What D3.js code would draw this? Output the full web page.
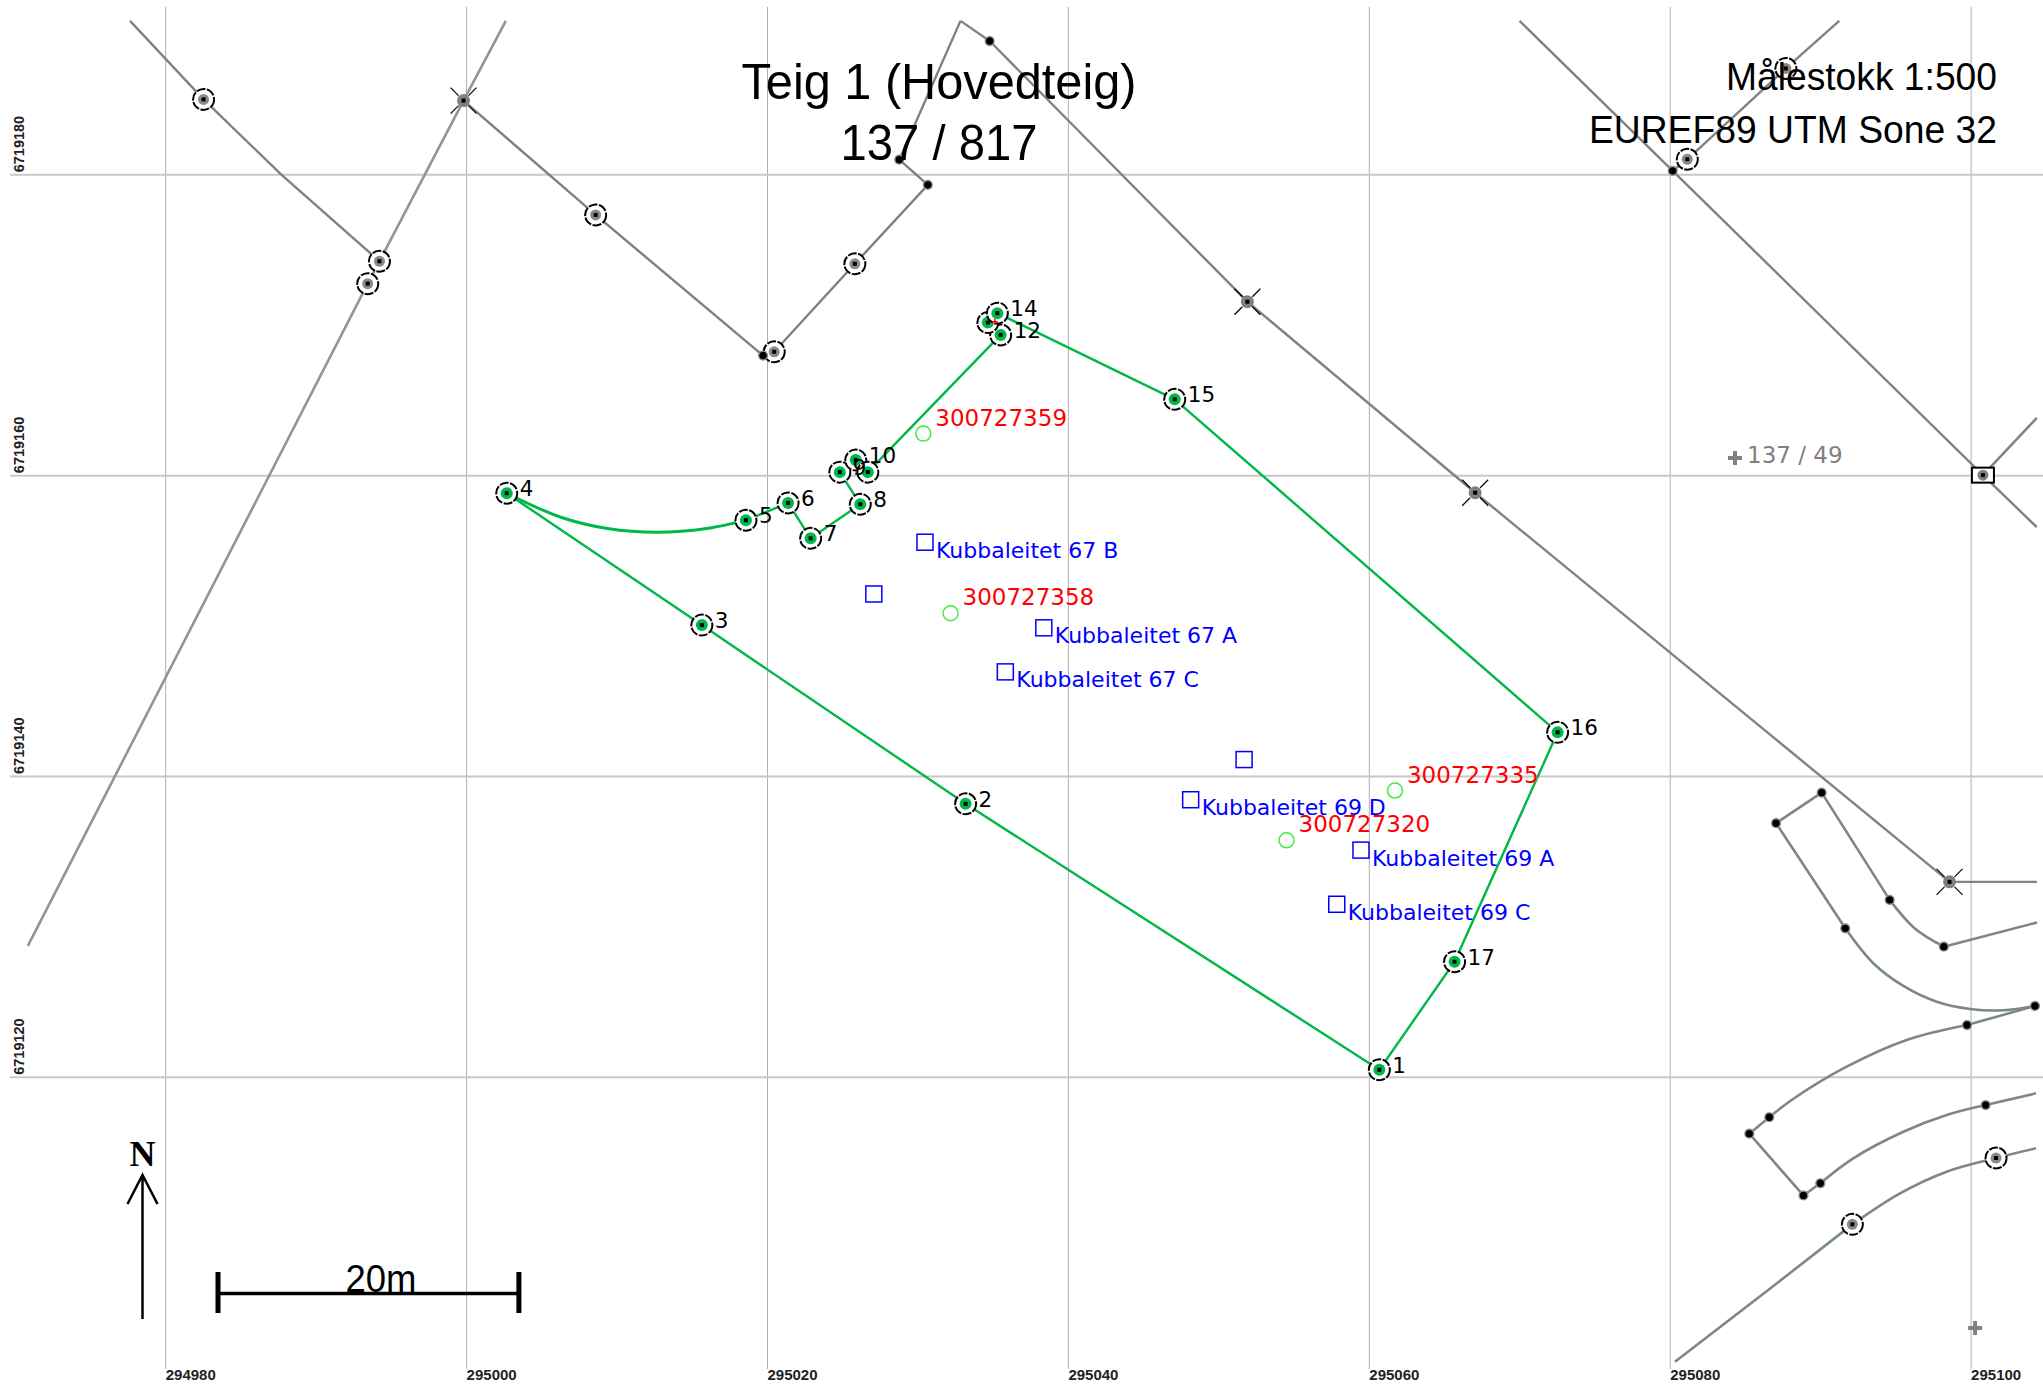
<!DOCTYPE html>
<html>
<head>
<meta charset="utf-8">
<script src="https://cdn.jsdelivr.net/npm/d3@7"></script>
<style>
  body { margin: 0; background: #fff; }
  svg { display: block; }
  .pointLabel { font: 21.5px "DejaVu Sans"; fill: #000; }
  .redLabel { font: 23px "DejaVu Sans"; fill: #f00; }
  .blueLabel { font: 22px "DejaVu Sans"; fill: #00f; }
  .grey { font: 23px "DejaVu Sans"; fill: #808080; }
  .title { font-family: "Liberation Sans"; fill: #000; }
</style>
</head>
<body>
<svg id="map" width="2043" height="1384"></svg>
<script>
// grid ticks
const eastTicks = [294980, 295000, 295020, 295040, 295060, 295080, 295100];
const northTicks = [6719120, 6719140, 6719160, 6719180];

// teig boundary, 1..17 [east, north]
const parcelPoints = [
  [295060.7, 6719120.47], [295033.2, 6719138.15], [295015.67, 6719150.03], [295002.7, 6719158.8],
  [295018.6, 6719157.0], [295021.4, 6719158.15], [295022.9, 6719155.8], [295026.2, 6719158.06],
  [295024.84, 6719160.2], [295025.9, 6719161.0], [295026.7, 6719160.2], [295035.53, 6719169.32],
  [295034.68, 6719170.14], [295035.31, 6719170.77], [295047.1, 6719165.04], [295072.55, 6719142.9],
  [295065.7, 6719127.65]
];
// 11 and 13 are not visible in the picture
const parcelLabels = ["1","2","3","4","5","6","7","8","9","10","","12","","14","15","16","17"];
const parcelArc = [
  [295002.7, 6719158.8], [295006.3, 6719157.2], [295009.4, 6719156.45], [295012.7, 6719156.2],
  [295016.0, 6719156.45], [295018.6, 6719157.0]
];

// kubbaleitet squares
const leases = [
  [295030.5, 6719155.54], [295027.1, 6719152.1], [295038.4, 6719149.85], [295035.84, 6719146.92],
  [295051.71, 6719141.09], [295048.16, 6719138.42], [295059.48, 6719135.07], [295057.87, 6719131.47]
];
const leaseLabels = ["Kubbaleitet 67 B", "", "Kubbaleitet 67 A", "Kubbaleitet 67 C", "", "Kubbaleitet 69 D", "Kubbaleitet 69 A", "Kubbaleitet 69 C"];

// red numbered buildings
const buildings = [
  [295030.39, 6719162.76], [295032.2, 6719150.82], [295061.74, 6719139.03], [295054.53, 6719135.72]
];
const buildingLabels = ["300727359", "300727358", "300727335", "300727320"];

// neighbour boundaries
const lineA = [[294977.66, 6719190.2], [294982.55, 6719184.98], [294987.7, 6719180.0], [294994.24, 6719174.22]];
const lineB = [[295002.64, 6719190.2], [294999.83, 6719184.9], [294994.24, 6719174.22], [294993.46, 6719172.73], [294970.87, 6719128.7]];
const lineC = [[294999.83, 6719184.9], [295008.61, 6719177.3], [295019.74, 6719167.95], [295020.48, 6719168.2],
  [295025.84, 6719174.05], [295030.69, 6719179.3], [295028.79, 6719180.97], [295032.86, 6719190.2]];
const lineD = [[295032.86, 6719190.2], [295034.8, 6719188.86], [295051.93, 6719171.53], [295067.07, 6719158.83],
  [295098.6, 6719132.96], [295104.4, 6719132.96]];
const lineE = [[295070.02, 6719190.2], [295080.2, 6719180.23], [295100.82, 6719160], [295104.4, 6719156.54]];
const lineE2 = [[295100.82, 6719160], [295104.4, 6719163.8]];
const lineF = [[295080.2, 6719180.23], [295081.17, 6719181.0], [295087.72, 6719187.04], [295091.27, 6719190.2]];
const lineG = [[295091.67, 6719129.87], [295087.07, 6719136.86], [295090.1, 6719138.89], [295094.62, 6719131.76]];
const lineH = [[295098.22, 6719128.65], [295104.42, 6719130.26]];
const lineI = [[295104.28, 6719124.71], [295099.76, 6719123.44]];
const lineJ = [[295086.62, 6719117.31], [295085.29, 6719116.22], [295088.89, 6719112.11], [295090.01, 6719112.92]];
const lineK = [[295101.0, 6719118.12], [295104.35, 6719118.9]];
const lineL = [[295080.35, 6719101.06], [295086.55, 6719105.82], [295092.14, 6719110.19]];
const curveA = [[295094.62, 6719131.76], [295096.27, 6719129.88], [295098.22, 6719128.65]];
const curveB = [[295091.67, 6719129.87], [295093.53, 6719127.55], [295095.53, 6719126.04], [295097.75, 6719124.99],
  [295099.96, 6719124.51], [295102.17, 6719124.42], [295104.28, 6719124.71]];
const curveC = [[295099.76, 6719123.44], [295095.75, 6719122.45], [295091.76, 6719120.67], [295088.11, 6719118.46], [295086.62, 6719117.31]];
const curveD = [[295090.01, 6719112.92], [295092.2, 6719114.58], [295095.53, 6719116.35], [295098.41, 6719117.46], [295101.0, 6719118.12]];
const curveE = [[295092.14, 6719110.19], [295095.31, 6719112.25], [295098.41, 6719113.69], [295101.69, 6719114.6], [295104.35, 6719115.25]];

// markers on the neighbour lines
const ringMarks = [
  [294982.55, 6719184.98], [294994.24, 6719174.22], [294993.46, 6719172.73], [295008.61, 6719177.3],
  [295020.48, 6719168.2], [295025.84, 6719174.05], [295081.17, 6719181.0], [295087.72, 6719187.04],
  [295092.14, 6719110.19], [295101.69, 6719114.6]
];
const crossMarks = [[294999.83, 6719184.9], [295051.93, 6719171.53], [295067.07, 6719158.83], [295098.6, 6719132.96]];
const squareMarks = [[295100.82, 6719160]];
const dotMarks = [
  [295019.74, 6719167.95], [295030.69, 6719179.3], [295028.79, 6719180.97], [295034.8, 6719188.86], [295080.2, 6719180.23],
  [295090.1, 6719138.89], [295087.07, 6719136.86], [295094.62, 6719131.76], [295098.22, 6719128.65], [295091.67, 6719129.87],
  [295104.28, 6719124.71], [295099.76, 6719123.44], [295086.62, 6719117.31], [295085.29, 6719116.22],
  [295088.89, 6719112.11], [295090.01, 6719112.92], [295101.0, 6719118.12]
];
const plusMarks = [[295084.34, 6719161.14], [295100.3, 6719103.3]];
const plusLabels = ["137 / 49", ""];
const redTicks = [[295035.15, 6719170.19]];

const svg = d3.select("#map");
const x = d3.scaleLinear().domain([294980, 295100]).range([165.2, 1970.6]);
const y = d3.scaleLinear().domain([6719120, 6719180]).range([1076.8, 174.3]);

// grid
const xAxis = svg.append("g").attr("transform", "translate(0,1369)")
  .call(d3.axisBottom(x).tickValues(eastTicks).tickFormat(d3.format("d")).tickSize(-1362).tickPadding(0));
xAxis.select(".domain").remove();
xAxis.selectAll("line").attr("stroke", "#b0b0b0").attr("stroke-width", 1);
xAxis.selectAll("text").attr("text-anchor", "start").attr("dy", null).attr("y", 11)
  .attr("font-family", "Liberation Sans").attr("font-weight", "bold").attr("font-size", 15).attr("fill", "#222");

const yAxis = svg.append("g").attr("transform", "translate(2043,0)")
  .call(d3.axisLeft(y).tickValues(northTicks).tickFormat(d3.format("d")).tickSize(2033).tickPadding(0));
yAxis.select(".domain").remove();
yAxis.selectAll("line").attr("stroke", "#c8c8c8").attr("stroke-width", 2);
yAxis.selectAll("text").remove();
svg.append("g").selectAll("text").data(northTicks).join("text")
  .attr("transform", d => `translate(24,${y(d) - 2}) rotate(-90)`)
  .attr("font-family", "Liberation Sans").attr("font-weight", "bold").attr("font-size", 14.5).attr("fill", "#222")
  .text(d => d);

const straight = d3.line().x(d => x(d[0])).y(d => y(d[1]));
const smooth = d3.line().x(d => x(d[0])).y(d => y(d[1])).curve(d3.curveCatmullRom.alpha(0.5));

function drawLine(points, gen, color, width) {
  svg.append("path").attr("d", gen(points)).attr("fill", "none")
    .attr("stroke", color).attr("stroke-width", width).attr("stroke-linejoin", "round");
}

const greyLine = "#7d8483";
const sageLine = "#7b8a7d";
drawLine(lineB, straight, "#9b8f9b", 2.6);
drawLine(lineA, straight, greyLine, 2.4);
drawLine(lineC, straight, "#7f7f88", 2.4);
drawLine(lineD, straight, greyLine, 2.4);
drawLine(lineE, straight, greyLine, 2.4);
drawLine(lineE2, straight, "#857f8f", 2.6);
drawLine(lineF, straight, greyLine, 2.4);
[lineG, lineH, lineI, lineJ, lineK, lineL].forEach(l => drawLine(l, straight, sageLine, 2.6));
[curveA, curveB, curveC, curveD, curveE].forEach(l => drawLine(l, smooth, sageLine, 2.6));

// parcel boundary: everything except the arc from 4 to 5
const green = "#00b84a";
const ring = parcelPoints.slice(4).concat(parcelPoints.slice(0, 4));
drawLine(ring, straight, green, 2.4);
drawLine(parcelArc, smooth, green, 3);

function ringMark(g, points, fill, inner) {
  const m = g.selectAll(null).data(points).join("g")
    .attr("transform", d => `translate(${x(d[0])},${y(d[1])})`);
  m.append("circle").attr("r", 10.5).attr("fill", "#fff").attr("stroke", "#000")
    .attr("stroke-width", 2).attr("stroke-dasharray", "9 1.5");
  m.append("circle").attr("r", inner).attr("fill", fill);
  m.append("rect").attr("x", -2).attr("y", -2).attr("width", 4).attr("height", 4).attr("fill", "#000");
}

const marks = svg.append("g");
ringMark(marks.append("g"), ringMarks, "#8a8a8a", 5.5);

// x marks
const cross = marks.append("g").selectAll("g").data(crossMarks).join("g")
  .attr("transform", d => `translate(${x(d[0])},${y(d[1])})`);
[[1, 1], [1, -1], [-1, 1], [-1, -1]].forEach(([a, b]) => {
  cross.append("line").attr("x1", 5 * a).attr("y1", 5 * b).attr("x2", 13 * a).attr("y2", 13 * b)
    .attr("stroke", "#000").attr("stroke-width", 1.2);
});
cross.append("circle").attr("r", 6.5).attr("fill", "#808080");
cross.append("rect").attr("x", -2).attr("y", -2).attr("width", 4).attr("height", 4).attr("fill", "#000");

// square corner mark
const sq = marks.append("g").selectAll("g").data(squareMarks).join("g")
  .attr("transform", d => `translate(${x(d[0])},${y(d[1])})`);
sq.append("rect").attr("x", -11).attr("y", -7.5).attr("width", 22).attr("height", 15)
  .attr("fill", "#fff").attr("stroke", "#000").attr("stroke-width", 2);
sq.append("circle").attr("r", 5.5).attr("fill", "#808080");
sq.append("rect").attr("x", -2).attr("y", -2).attr("width", 4).attr("height", 4).attr("fill", "#000");

marks.append("g").selectAll("circle").data(dotMarks).join("circle")
  .attr("cx", d => x(d[0])).attr("cy", d => y(d[1])).attr("r", 4.4).attr("fill", "#000")
  .attr("stroke", "#8a8f8a").attr("stroke-width", 1.4);

ringMark(marks.append("g"), parcelPoints, "#00b84a", 6);

svg.append("g").selectAll("path").data(redTicks).join("path")
  .attr("transform", d => `translate(${x(d[0])},${y(d[1])})`)
  .attr("d", "M-3,0H3M0,-3V3").attr("stroke", "#f00").attr("stroke-width", 1.5);

svg.append("g").selectAll("text").data(parcelPoints).join("text")
  .attr("class", "pointLabel")
  .attr("x", d => x(d[0]) + 13).attr("y", d => y(d[1]) + 3)
  .text((d, i) => parcelLabels[i]);

// leases
svg.append("g").selectAll("rect").data(leases).join("rect")
  .attr("x", d => x(d[0]) - 8).attr("y", d => y(d[1]) - 8)
  .attr("width", 16).attr("height", 16)
  .attr("fill", "none").attr("stroke", "#00f").attr("stroke-width", 1.5);
svg.append("g").selectAll("text").data(leases).join("text")
  .attr("class", "blueLabel")
  .attr("x", d => x(d[0]) + 11).attr("y", d => y(d[1]) + 15.5)
  .text((d, i) => leaseLabels[i]);

// buildings
svg.append("g").selectAll("circle").data(buildings).join("circle")
  .attr("cx", d => x(d[0])).attr("cy", d => y(d[1])).attr("r", 7.5)
  .attr("fill", "none").attr("stroke", "#3dee3d").attr("stroke-width", 1.5);
svg.append("g").selectAll("text").data(buildings).join("text")
  .attr("class", "redLabel")
  .attr("x", d => x(d[0]) + 12).attr("y", d => y(d[1]) - 8)
  .text((d, i) => buildingLabels[i]);

// plus marks
const plus = svg.append("g").selectAll("g").data(plusMarks).join("g")
  .attr("transform", d => `translate(${x(d[0])},${y(d[1])})`);
plus.append("path").attr("d", "M-7,0H7M0,-7V7").attr("stroke", "#808080").attr("stroke-width", 4);
plus.append("text").attr("class", "grey").attr("x", 12).attr("y", 5).text((d, i) => plusLabels[i]);

// titles
function title(str, px, py, size, anchor, len) {
  svg.append("text").attr("class", "title").attr("x", px).attr("y", py).attr("font-size", size)
    .attr("text-anchor", anchor).attr("textLength", len).attr("lengthAdjust", "spacingAndGlyphs").text(str);
}
title("Teig 1 (Hovedteig)", 939, 99, 50, "middle", 395);
title("137 / 817", 939, 160, 50, "middle", 197);
title("Målestokk 1:500", 1997, 90, 39, "end", 271);
title("EUREF89 UTM Sone 32", 1997, 143, 39, "end", 408);

// scale bar, 20 m long on the same scale as the map
const barLeft = 218, barRight = barLeft + (x(295020) - x(295000));
const bar = svg.append("g").attr("stroke", "#000");
bar.append("line").attr("x1", barLeft).attr("x2", barRight).attr("y1", 1293.5).attr("y2", 1293.5).attr("stroke-width", 3.5);
[barLeft, barRight].forEach(px => bar.append("line").attr("x1", px).attr("x2", px).attr("y1", 1272).attr("y2", 1313).attr("stroke-width", 5));
title("20m", 381, 1292, 39, "middle", 71);

// north arrow
svg.append("path").attr("d", "M142.5,1319V1175M127.5,1204L142.5,1175L157.5,1204")
  .attr("fill", "none").attr("stroke", "#000").attr("stroke-width", 2.5);
svg.append("text").attr("x", 142.5).attr("y", 1165.5).attr("text-anchor", "middle")
  .attr("font-family", "Liberation Serif").attr("font-weight", "bold").attr("font-size", 36).text("N");
</script>
</body>
</html>
